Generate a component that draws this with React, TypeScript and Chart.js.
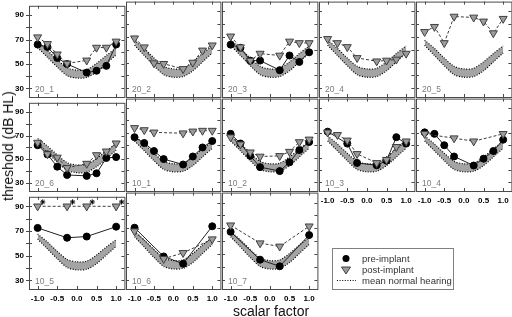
import React, { useEffect, useRef } from 'react';
import { Chart, registerables } from 'chart.js';
Chart.register(...registerables);

// ---------- data ----------
const SCALAR_8 = [-1, -0.75, -0.5, -0.25, 0.25, 0.5, 0.75, 1];
const SCALAR_4 = [-1, -0.25, 0.25, 1];

// mean normal hearing band (upper / lower edge)
const NH_X = [-1, -0.75, -0.5, -0.25, 0, 0.25, 0.5, 0.75, 1];
const NH_UPPER = [67.5, 61, 53.5, 47, 45, 45.5, 50.5, 57, 63];
const NH_LOWER = [63.5, 55.5, 47.5, 40.5, 38.5, 39, 43.5, 50.5, 57.5];

const PRE_20_1 = [66, 64, 55, 50, 43, 44.5, 48.5, 66];
const POST_20_1 = [72, 66.5, 58, 50.5, 53, 63.5, 63.5, 68.5];
const POST_20_2 = [69, 62, 49.5, 49, 45, 50, 59.5, 63.5];
const PRE_20_3 = [64, 61.5, 51.5, 51.5, 44, 55.5, 50.5, 58];
const POST_20_3 = [70.5, 62, 51.5, 57, 55.5, 66.5, 65.3, 65.3];
const POST_20_4 = [68.5, 65.3, 62.2, 53.6, 51, 51.6, 52.4, 57];
const POST_20_5 = [74, 78, 65.3, 86, 85.3, 82.2, 73, 84.3];
const PRE_20_6 = [61.8, 54, 43.6, 36.6, 35.8, 38, 51, 51.7];
const POST_20_6 = [64, 54.3, 51.4, 42.6, 46.2, 53.5, 56.6, 63.4];
const PRE_10_1 = [66.5, 61.8, 55.3, 48.8, 44.4, 50.9, 58.2, 63.4];
const POST_10_1 = [74, 72.3, 70.4, null, 69.7, 71.2, 71.8, 71.8];
const PRE_10_2 = [69.2, 61.4, 51.4, 42.3, 39.1, 46.2, 56.1, 62.6];
const POST_10_2 = [66.5, 60.8, 54.3, 50.9, 51.4, 54.8, 62.6, 64.7];
const PRE_10_3 = [71, null, 61.3, 45.7, 43.8, 47.5, 66.5, 61.3];
const POST_10_3 = [70.4, 68.4, 63.9, 53, 45.7, 48.3, 58.7, 63.2];
const PRE_10_4 = [70.4, 69.2, 60, 50.9, 43.6, 49.1, 55.3, 64.5];
const POST_10_4 = [69.2, 65.7, 63.2, 69.2];
const PRE_10_5 = [72.5, 64.5, 65.5, 73.5];
const POST_10_5 = [90, 90, 90, 90];
const STAR_X_10_5 = [-0.87, -0.11, 0.39, 1.14];
const STAR_Y_10_5 = [93.5, 93.5, 93.5, 93.5];
const PRE_10_6 = [70.5, 48.2, 42.6, 71.6];
const POST_10_6 = [67.8, 46.4, 51, 61.6];
const PRE_10_7 = [67.3, 45.7, 40.6, 64.8];
const POST_10_7 = [72.4, 58.5, 56, 71.6];

const X_TICKS = [-1, -0.5, 0, 0.5, 1];
const Y_TICKS = [30, 40, 50, 60, 70, 80, 90];
const Y_LABELLED = [30, 50, 70, 90];

// ---------- layout ----------
const X_MIN = -1.22, X_MAX = 1.21, Y_MIN = 23, Y_MAX = 97.7;
const COL_LEFT = [29, 126, 222, 319, 416];
const COL_W = [97, 96, 97, 97, 97];
const ROW_TOP = [0, 97, 191];
const ROW_H = [97, 94, 98];
const ML = 30, MT = 4, MR = 4, MB = 18;
const FONT = '"Liberation Sans", Arial, Helvetica, sans-serif';

type P = { x: number; y: number };
const pts = (xs: number[], ys: (number | null)[]): P[] =>
  xs.map((x, i) => ({ x, y: ys[i] as number })).filter((p) => p.y != null);

interface PanelDef {
  name: string; col: number; row: number;
  pre: P[]; post: P[]; stars: P[];
  showX: boolean; showY: boolean;
}

const PANELS: PanelDef[] = [
  { name: '20_1', col: 0, row: 0, pre: pts(SCALAR_8, PRE_20_1), post: pts(SCALAR_8, POST_20_1), stars: [], showX: false, showY: true },
  { name: '20_2', col: 1, row: 0, pre: [], post: pts(SCALAR_8, POST_20_2), stars: [], showX: false, showY: false },
  { name: '20_3', col: 2, row: 0, pre: pts(SCALAR_8, PRE_20_3), post: pts(SCALAR_8, POST_20_3), stars: [], showX: false, showY: false },
  { name: '20_4', col: 3, row: 0, pre: [], post: pts(SCALAR_8, POST_20_4), stars: [], showX: false, showY: false },
  { name: '20_5', col: 4, row: 0, pre: [], post: pts(SCALAR_8, POST_20_5), stars: [], showX: false, showY: false },
  { name: '20_6', col: 0, row: 1, pre: pts(SCALAR_8, PRE_20_6), post: pts(SCALAR_8, POST_20_6), stars: [], showX: false, showY: true },
  { name: '10_1', col: 1, row: 1, pre: pts(SCALAR_8, PRE_10_1), post: pts(SCALAR_8, POST_10_1), stars: [], showX: false, showY: false },
  { name: '10_2', col: 2, row: 1, pre: pts(SCALAR_8, PRE_10_2), post: pts(SCALAR_8, POST_10_2), stars: [], showX: false, showY: false },
  { name: '10_3', col: 3, row: 1, pre: pts(SCALAR_8, PRE_10_3), post: pts(SCALAR_8, POST_10_3), stars: [], showX: true, showY: false },
  { name: '10_4', col: 4, row: 1, pre: pts(SCALAR_8, PRE_10_4), post: pts(SCALAR_4, POST_10_4), stars: [], showX: true, showY: false },
  { name: '10_5', col: 0, row: 2, pre: pts(SCALAR_4, PRE_10_5), post: pts(SCALAR_4, POST_10_5), stars: pts(STAR_X_10_5, STAR_Y_10_5), showX: true, showY: true },
  { name: '10_6', col: 1, row: 2, pre: pts(SCALAR_4, PRE_10_6), post: pts(SCALAR_4, POST_10_6), stars: [], showX: true, showY: false },
  { name: '10_7', col: 2, row: 2, pre: pts(SCALAR_4, PRE_10_7), post: pts(SCALAR_4, POST_10_7), stars: [], showX: true, showY: false },
];

const framePlugin = {
  id: 'panelFrame',
  beforeDatasetsDraw(chart: any, _args: any, opts: any) {
    const { ctx, chartArea: a, scales } = chart;
    const x = scales.x, y = scales.y;
    ctx.save();
    ctx.strokeStyle = '#4a4a4a';
    ctx.lineWidth = 1;
    ctx.strokeRect(a.left + 0.5, a.top + 0.5, a.right - a.left, a.bottom - a.top);
    ctx.beginPath();
    for (const v of X_TICKS) {
      const px = Math.round(x.getPixelForValue(v)) + 0.5;
      ctx.moveTo(px, a.bottom); ctx.lineTo(px, a.bottom - 3);
      ctx.moveTo(px, a.top); ctx.lineTo(px, a.top + 3);
    }
    for (const v of Y_TICKS) {
      const py = Math.round(y.getPixelForValue(v)) + 0.5;
      ctx.moveTo(a.left - (opts.outLeft ? 3 : 0), py); ctx.lineTo(a.left + 3, py);
      ctx.moveTo(a.right, py); ctx.lineTo(a.right - 3, py);
    }
    ctx.stroke();
    ctx.fillStyle = '#7c7c7c';
    ctx.font = '8.5px ' + FONT;
    ctx.textBaseline = 'alphabetic';
    ctx.textAlign = 'left';
    ctx.fillText(opts.label, a.left + 6, a.bottom - 5);
    ctx.restore();
  },
};

function Panel({ def }: { def: PanelDef }) {
  const ref = useRef<HTMLCanvasElement>(null);
  const W = COL_W[def.col], H = ROW_H[def.row];
  const cw = ML + W + MR, ch = MT + H + MB;
  useEffect(() => {
    if (!ref.current) return;
    const chart = new Chart(ref.current, {
      type: 'scatter',
      data: {
        datasets: [
          {
            label: 'post-implant', data: def.post, showLine: true, tension: 0,
            borderColor: '#3c3c3c', borderWidth: 1, borderDash: [3, 2],
            pointStyle: 'triangle', rotation: 180, pointRadius: 4.6,
            pointBackgroundColor: '#9c9c9c', pointBorderColor: '#404040', pointBorderWidth: 1,
          } as any,
          {
            label: 'pre-implant', data: def.pre, showLine: true, tension: 0,
            borderColor: '#222', borderWidth: 1,
            pointStyle: 'circle', pointRadius: 3.5,
            pointBackgroundColor: '#000', pointBorderColor: '#000', pointBorderWidth: 1,
          },
          {
            label: 'no response', data: def.stars, showLine: false,
            pointStyle: 'star', pointRadius: 2.6, pointBorderColor: '#000', pointBorderWidth: 1,
          },
          {
            label: 'normal upper', data: pts(NH_X, NH_UPPER), showLine: true, tension: 0.3,
            borderColor: '#000', borderWidth: 1.2, borderDash: [1, 1.6], pointRadius: 0, fill: false,
          },
          {
            label: 'normal lower', data: pts(NH_X, NH_LOWER), showLine: true, tension: 0.3,
            borderColor: '#000', borderWidth: 1.2, borderDash: [1, 1.6], pointRadius: 0,
            fill: '-1', backgroundColor: '#a4a4a4',
          },
        ],
      },
      options: {
        animation: false,
        responsive: false,
        events: [],
        layout: { padding: { top: MT, right: MR, left: 0, bottom: 0 } },
        plugins: {
          legend: { display: false },
          tooltip: { enabled: false },
          panelFrame: { label: def.name, outLeft: def.col === 0 },
        } as any,
        scales: {
          x: {
            type: 'linear', min: X_MIN, max: X_MAX,
            afterBuildTicks: (s: any) => { s.ticks = X_TICKS.map((v) => ({ value: v })); },
            afterFit: (s: any) => { s.height = MB; },
            grid: { display: false, drawTicks: false },
            border: { display: false },
            ticks: {
              display: def.showX, autoSkip: false, maxRotation: 0, padding: 5,
              color: '#000', font: { family: FONT, size: 8, weight: 'bold' },
              callback: (v: any) => Number(v).toFixed(1),
            },
          },
          y: {
            type: 'linear', min: Y_MIN, max: Y_MAX,
            afterBuildTicks: (s: any) => { s.ticks = Y_TICKS.map((v) => ({ value: v })); },
            afterFit: (s: any) => { s.width = ML; },
            grid: { display: false, drawTicks: false },
            border: { display: false },
            ticks: {
              display: def.showY, autoSkip: false, padding: 5,
              color: '#000', font: { family: FONT, size: 8, weight: 'bold' },
              callback: (v: any) => (Y_LABELLED.includes(Number(v)) ? String(v) : ''),
            },
          },
        },
      } as any,
      plugins: [framePlugin],
    });
    return () => chart.destroy();
  }, []);
  return (
    <canvas
      ref={ref}
      width={cw}
      height={ch}
      style={{ position: 'absolute', left: COL_LEFT[def.col] - ML, top: ROW_TOP[def.row] - MT, width: cw, height: ch }}
    />
  );
}

export default function App() {
  return (
    <div style={{ position: 'fixed', left: 0, top: 0, width: 512, height: 317, overflow: 'hidden', background: '#fff', fontFamily: FONT }}>
      {PANELS.map((p) => <Panel key={p.name} def={p} />)}
      <div style={{ position: 'absolute', left: 8, top: 146, transform: 'translate(-50%, -50%) rotate(-90deg)', whiteSpace: 'nowrap', fontSize: 14, lineHeight: 1, color: '#111' }}>
        threshold (dB HL)
      </div>
      <div style={{ position: 'absolute', left: 271, top: 311, transform: 'translate(-50%, -50%)', whiteSpace: 'nowrap', fontSize: 14, lineHeight: 1, color: '#111' }}>
        scalar factor
      </div>
      <div style={{ position: 'absolute', left: 332, top: 248, width: 122, height: 42, boxSizing: 'border-box', border: '1px solid #808080', background: '#fff' }}>
        <svg width={120} height={40} style={{ position: 'absolute', left: 0, top: 0 }}>
          <circle cx={13} cy={9.5} r={3.5} fill="#000" />
          <polygon points="8.5,18 17.5,18 13,25" fill="#9c9c9c" stroke="#404040" strokeWidth={1} />
          <line x1={4} y1={31.5} x2={23} y2={31.5} stroke="#000" strokeWidth={1.2} strokeDasharray="1,1.6" />
        </svg>
        {['pre-implant', 'post-implant', 'mean normal hearing'].map((t, i) => (
          <div key={t} style={{ position: 'absolute', left: 29, top: 9.5 + i * 11 - 6, fontSize: 9.5, lineHeight: '12px', color: '#333', whiteSpace: 'nowrap' }}>{t}</div>
        ))}
      </div>
    </div>
  );
}
